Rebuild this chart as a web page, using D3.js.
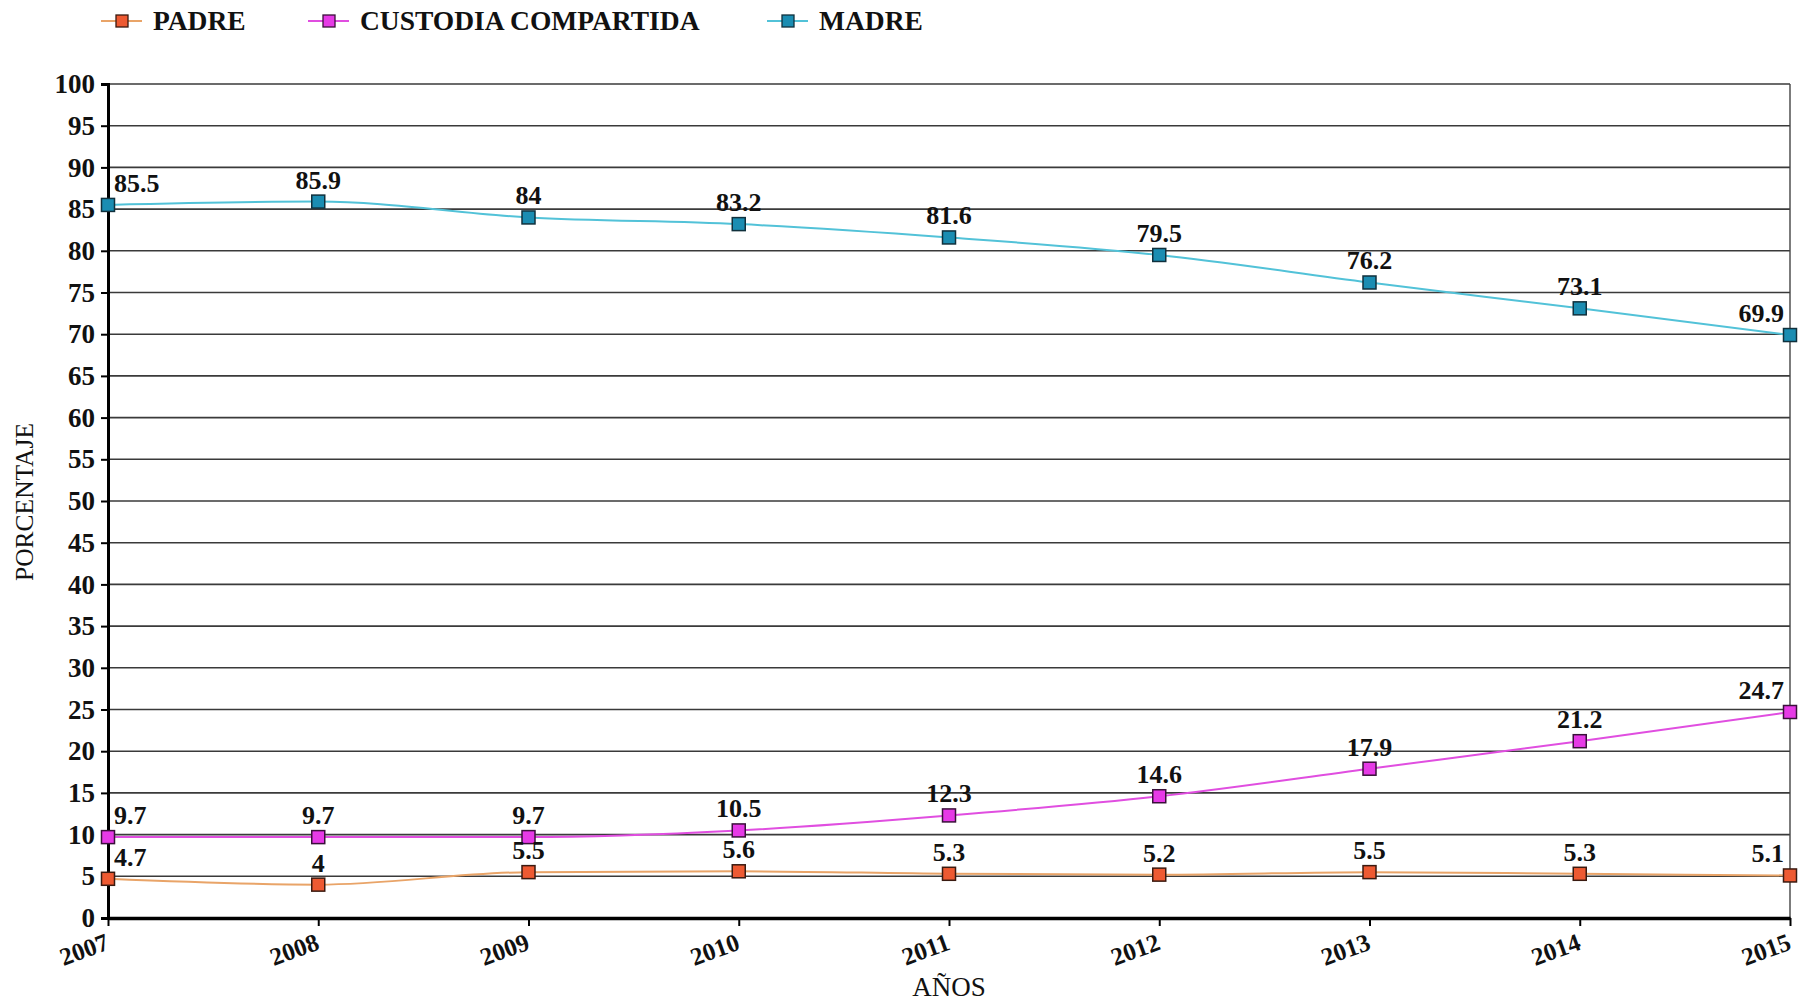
<!DOCTYPE html>
<html>
<head>
<meta charset="utf-8">
<script src="https://cdn.jsdelivr.net/npm/d3@7"></script>
<style>
  html, body { margin: 0; padding: 0; background: #fff; }
  svg { display: block; font-family: "Liberation Serif", "Times New Roman", serif; }
</style>
</head>
<body>
<svg id="chart" width="1798" height="1002"></svg>
<script>
const years = [2007, 2008, 2009, 2010, 2011, 2012, 2013, 2014, 2015];
const padre = [4.7, 4, 5.5, 5.6, 5.3, 5.2, 5.5, 5.3, 5.1];
const custodia = [9.7, 9.7, 9.7, 10.5, 12.3, 14.6, 17.9, 21.2, 24.7];
const madre = [85.5, 85.9, 84, 83.2, 81.6, 79.5, 76.2, 73.1, 69.9];
const seriesNames = ["PADRE", "CUSTODIA COMPARTIDA", "MADRE"];
const yTicks = d3.range(0, 101, 5);

const series = [
  { name: seriesNames[0], values: padre, line: "#e9a468", fill: "#ee5a32", stroke: "#3a1a10" },
  { name: seriesNames[1], values: custodia, line: "#e04ee0", fill: "#e63ae6", stroke: "#3a103a" },
  { name: seriesNames[2], values: madre, line: "#52c2d8", fill: "#1b8db2", stroke: "#10303c" }
];

const svg = d3.select("#chart");
const L = 108, R = 1790, T = 84, B = 918;

const x = d3.scalePoint().domain(years).range([L, R]);
const y = d3.scaleLinear().domain([0, 100]).range([B, T]);

// gridlines
svg.append("g").selectAll("line").data(yTicks.filter(d => d > 0)).join("line")
  .attr("x1", L).attr("x2", R)
  .attr("y1", d => y(d)).attr("y2", d => y(d))
  .attr("stroke", "#3a3a3a").attr("stroke-width", 1.6);

// right border
svg.append("line").attr("x1", R).attr("x2", R).attr("y1", T).attr("y2", B)
  .attr("stroke", "#444").attr("stroke-width", 1.4);

// y axis
const yAxis = svg.append("g").attr("transform", `translate(${L},0)`)
  .call(d3.axisLeft(y).tickValues(yTicks).tickSize(7).tickPadding(6));
yAxis.select(".domain").attr("stroke", "#000").attr("stroke-width", 3);
yAxis.selectAll(".tick line").attr("stroke", "#000").attr("stroke-width", 2);
yAxis.selectAll(".tick text").attr("fill", "#111")
  .style("font-size", "27px").style("font-weight", "bold")
  .style("font-family", "Liberation Serif, serif");

// x axis
const xAxis = svg.append("g").attr("transform", `translate(0,${B})`)
  .call(d3.axisBottom(x).tickSize(8).tickSizeOuter(0).tickFormat(d3.format("d")));
xAxis.select(".domain").attr("stroke", "#000").attr("stroke-width", 3.5);
xAxis.selectAll(".tick line").attr("stroke", "#000").attr("stroke-width", 2);
xAxis.selectAll(".tick text").attr("fill", "#111")
  .style("font-size", "25px").style("font-weight", "bold")
  .style("font-family", "Liberation Serif, serif")
  .attr("text-anchor", "end")
  .attr("dy", null).attr("y", null)
  .attr("transform", "translate(2,31) rotate(-20)");

// lines
const lineGen = d3.line().x((d, i) => x(years[i])).y(d => y(d)).curve(d3.curveMonotoneX);
series.forEach(s => {
  svg.append("path").datum(s.values).attr("d", lineGen)
    .attr("fill", "none").attr("stroke", s.line).attr("stroke-width", 2);
});

// markers
const ms = 13;
series.forEach(s => {
  svg.append("g").selectAll("rect").data(s.values).join("rect")
    .attr("x", (d, i) => x(years[i]) - ms / 2)
    .attr("y", d => y(d) - ms / 2)
    .attr("width", ms).attr("height", ms)
    .attr("fill", s.fill).attr("stroke", s.stroke).attr("stroke-width", 1.5);
});

// data labels
series.forEach(s => {
  svg.append("g").selectAll("text").data(s.values).join("text")
    .attr("x", (d, i) => i === 0 ? x(years[i]) + 6 : (i === years.length - 1 ? x(years[i]) - 6 : x(years[i])))
    .attr("y", d => y(d) - 13)
    .attr("text-anchor", (d, i) => i === 0 ? "start" : (i === years.length - 1 ? "end" : "middle"))
    .attr("fill", "#111")
    .style("font-size", "26px").style("font-weight", "bold")
    .text(d => d);
});

// axis titles
svg.append("text").attr("x", (L + R) / 2).attr("y", 996)
  .attr("text-anchor", "middle").attr("fill", "#111")
  .style("font-size", "27px").text("AÑOS");
svg.append("text").attr("transform", "translate(33,502) rotate(-90)")
  .attr("text-anchor", "middle").attr("fill", "#111")
  .style("font-size", "25.5px").text("PORCENTAJE");

// legend
const legendX = [122, 329, 788];
const leg = svg.append("g");
series.forEach((s, i) => {
  const cx = legendX[i], cy = 21;
  leg.append("line").attr("x1", cx - 21).attr("x2", cx + 20).attr("y1", cy).attr("y2", cy)
    .attr("stroke", s.line).attr("stroke-width", 2);
  leg.append("rect").attr("x", cx - 6).attr("y", cy - 6).attr("width", 12).attr("height", 12)
    .attr("fill", s.fill).attr("stroke", s.stroke).attr("stroke-width", 1.3);
  leg.append("text").attr("x", cx + 31).attr("y", cy + 9)
    .attr("fill", "#111").style("font-size", "27.5px").style("font-weight", "bold")
    .text(s.name);
});
</script>
</body>
</html>
